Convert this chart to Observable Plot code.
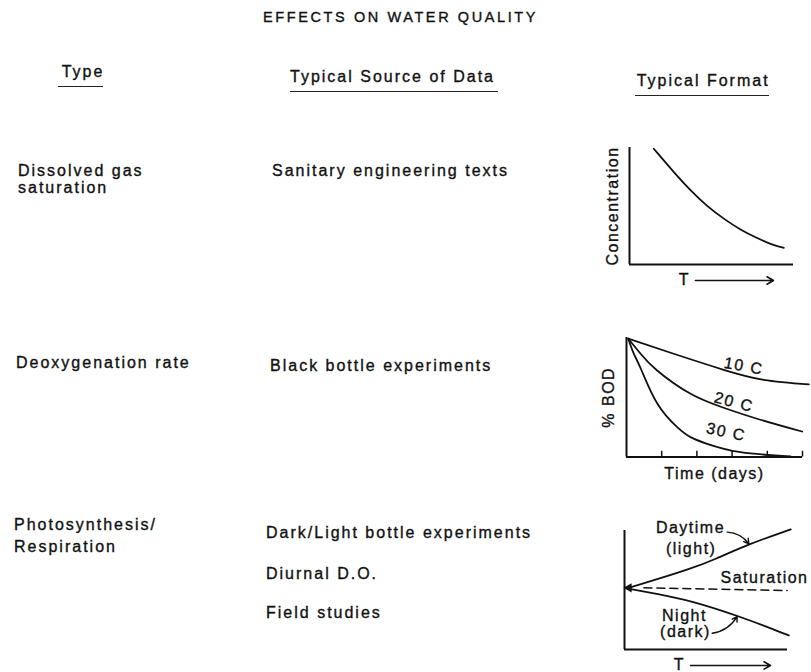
<!DOCTYPE html>
<html><head><meta charset="utf-8">
<script src="https://cdn.jsdelivr.net/npm/d3@7"></script>
<script src="https://cdn.jsdelivr.net/npm/@observablehq/plot@0.6"></script>
<style>
html,body{margin:0;padding:0;background:#fff;}
#page{position:relative;width:811px;height:672px;overflow:hidden;font-family:"Liberation Sans",Arial,Helvetica,sans-serif;color:#111;}
.t{position:absolute;font-size:16px;line-height:16px;letter-spacing:2px;white-space:nowrap;-webkit-text-stroke:0.35px #111;}
.title{font-size:14.5px;line-height:14.5px;letter-spacing:2.6px;}
.ul{position:absolute;height:0;border-top:1.6px solid #222;}
.chart{position:absolute;}
</style></head><body><div id="page"></div>
<script>
// ---------- DATA ----------
const title = "EFFECTS ON WATER QUALITY";
const headers = ["Type", "Typical Source of Data", "Typical Format"];
const types = [["Dissolved gas", "saturation"], ["Deoxygenation rate"], ["Photosynthesis/", "Respiration"]];
const sources = [["Sanitary engineering texts"], ["Black bottle experiments"], ["Dark/Light bottle experiments", "Diurnal D.O.", "Field studies"]];

// Chart 1: dissolved gas saturation concentration vs T
const concLabel = "Concentration";
const concT = [1.48, 2.70, 3.72, 4.74, 5.75, 6.77, 7.79, 8.80, 9.41];
const concC = [9.89, 7.89, 6.32, 4.96, 3.90, 2.96, 2.25, 1.62, 1.42];

// Chart 2: % BOD vs time (days)
const bodLabel = "% BOD";
const timeLabel = "Time (days)";
const dayTicks = [1, 2, 3, 4, 5];
const temps = ["10 C", "20 C", "30 C"];
const days10 = [0.05, 1.34, 2.76, 3.9, 5.18];
const bod10  = [99, 86.4, 73.0, 64.6, 60.7];
const days20 = [0.05, 0.4, 0.87, 1.82, 2.76, 3.71, 4.99];
const bod20  = [99, 86.4, 72.4, 52.9, 41.2, 32.0, 21.3];
const days30 = [0.05, 0.2, 0.42, 0.87, 1.44, 1.82, 2.29, 3.24, 4.66];
const bod30  = [99, 87, 73, 45, 25, 16.6, 11, 4, 0.5];
const tempLabelDay = [3.33, 3.05, 2.83];
const tempLabelBod = [76, 45.9, 20.8];
const tempLabelAngle = [10, 15, 12];

// Chart 3: photosynthesis / respiration
const dayX = [0.27, 2.0, 4.05, 5.6, 7.6, 10.2];
const dayY = [5.18, 5.9, 6.78, 7.6, 8.85, 10.1];
const nightX = [0.27, 2.0, 4.05, 7.12, 10.08];
const nightY = [5.1, 4.68, 4.12, 2.77, 1.18];
const satX = [1.19, 9.98];
const satY = [5.18, 4.96];
const photoLabels = ["Daytime", "(light)", "Saturation", "Night", "(dark)"];
const photoLabelX = [4.05, 4.09, 8.59, 3.68, 3.74];
const photoLabelY = [10.2, 8.46, 6.02, 2.86, 1.46];
const tLabel = "T";

// ---------- LAYOUT ----------
const ink = "#111";
const page = document.getElementById("page");
function addText(txt, left, top, cls) {
  const d = document.createElement("div");
  d.className = "t" + (cls ? " " + cls : "");
  d.textContent = txt;
  d.style.left = left + "px";
  d.style.top = top + "px";
  page.appendChild(d);
}
function addRule(x1, x2, y) {
  const d = document.createElement("div");
  d.className = "ul";
  d.style.left = x1 + "px";
  d.style.width = (x2 - x1) + "px";
  d.style.top = (y - 0.8) + "px";
  page.appendChild(d);
}
addText(title, 263, 9.5, "title");
const headerLayout = [[61.7, 63.8, 57.7, 103, 86.7], [290, 69.2, 290, 498, 91.7], [636.7, 72.5, 635, 769, 95.3]];
headers.forEach((h, i) => {
  const [l, t, u1, u2, uy] = headerLayout[i];
  addText(h, l, t);
  addRule(u1, u2, uy);
});
const typeLayout = [[18, [163.3, 180]], [16, [355]], [14, [517, 538.5]]];
types.forEach((lines, i) => lines.forEach((s, j) => addText(s, typeLayout[i][0], typeLayout[i][1][j])));
const sourceLayout = [[272, [162.5]], [270, [358]], [266, [525, 565.5, 604.5]]];
sources.forEach((lines, i) => lines.forEach((s, j) => addText(s, sourceLayout[i][0], sourceLayout[i][1][j])));

const font = {fontFamily: '"Liberation Sans",Arial,Helvetica,sans-serif', fontSize: "16px", letterSpacing: "1.5px", color: ink, background: "transparent", overflow: "visible"};
const txt = {fill: ink, stroke: ink, strokeWidth: 0.35, paintOrder: "fill"};
function place(svg, left, top) {
  svg.classList.add("chart");
  svg.style.left = left + "px";
  svg.style.top = top + "px";
  page.appendChild(svg);
}

// ---------- CHART 1 ----------
const conc = concT.map((t, i) => ({t, c: concC[i]}));
const c1 = Plot.plot({
  width: 221, height: 160, marginLeft: 39, marginRight: 18, marginTop: 17, marginBottom: 26,
  x: {domain: [0, 10], axis: null}, y: {domain: [0, 10], axis: null},
  style: font,
  marks: [
    Plot.ruleX([0], {stroke: ink, strokeWidth: 2}),
    Plot.ruleY([0], {stroke: ink, strokeWidth: 2}),
    Plot.line(conc, {x: "t", y: "c", curve: "basis", stroke: ink, strokeWidth: 1.8}),
    Plot.text([concLabel], {frameAnchor: "left", textAnchor: "middle", lineAnchor: "middle", rotate: -90, dx: -17, ...txt}),
    Plot.text([tLabel], {x: 3.35, y: -1.28, ...txt}),
    Plot.arrow([0], {x1: 4.02, x2: 8.78, y1: -1.37, y2: -1.37, stroke: ink, strokeWidth: 1.6, headLength: 7, inset: 0})
  ]
});
place(c1, 590, 130);

// ---------- CHART 2 ----------
const bodSeries = [[days10, bod10], [days20, bod20], [days30, bod30]];
const bod = bodSeries.flatMap(([ds, bs], k) => ds.map((d, i) => ({temp: temps[k], day: d, bod: bs[i]})));
const bodLabels = temps.map((t, k) => ({t, day: tempLabelDay[k], bod: tempLabelBod[k], r: tempLabelAngle[k]}));
const c2 = Plot.plot({
  width: 221, height: 170, marginLeft: 36, marginRight: 9, marginTop: 17, marginBottom: 33.5,
  x: {domain: [0, 5], axis: null}, y: {domain: [0, 100], axis: null},
  style: font,
  marks: [
    Plot.ruleX([0], {stroke: ink, strokeWidth: 2}),
    Plot.ruleY([0], {stroke: ink, strokeWidth: 2}),
    Plot.ruleX(dayTicks, {y1: 0, y2: 4.8, stroke: ink, strokeWidth: 1.5}),
    Plot.line(bod, {x: "day", y: "bod", z: "temp", curve: "natural", stroke: ink, strokeWidth: 1.8}),
    Plot.text(bodLabels, {x: "day", y: "bod", text: "t", rotate: "r", ...txt, style: {letterSpacing: "0.5px"}}),
    Plot.text([bodLabel], {frameAnchor: "left", textAnchor: "middle", lineAnchor: "middle", rotate: -90, dx: -18, ...txt}),
    Plot.text([timeLabel], {frameAnchor: "bottom", textAnchor: "middle", lineAnchor: "middle", dy: 17, ...txt})
  ]
});
place(c2, 590, 320);

// ---------- CHART 3 ----------
const dayLine = dayX.map((x, i) => ({x, y: dayY[i]}));
const nightLine = nightX.map((x, i) => ({x, y: nightY[i]}));
const satLine = satX.map((x, i) => ({x, y: satY[i]}));
const pLabels = photoLabels.map((t, i) => ({t, x: photoLabelX[i], y: photoLabelY[i]}));
const c3 = Plot.plot({
  width: 221, height: 162, marginLeft: 34, marginRight: 24, marginTop: 20, marginBottom: 23,
  x: {domain: [0, 10], axis: null}, y: {domain: [0, 10], axis: null},
  style: font,
  marks: [
    Plot.ruleX([0], {stroke: ink, strokeWidth: 2}),
    Plot.ruleY([0], {stroke: ink, strokeWidth: 2}),
    Plot.line(dayLine, {x: "x", y: "y", curve: "basis", stroke: ink, strokeWidth: 1.8}),
    Plot.line(nightLine, {x: "x", y: "y", curve: "basis", stroke: ink, strokeWidth: 1.8}),
    Plot.line(satLine, {x: "x", y: "y", stroke: ink, strokeWidth: 1.5, strokeDasharray: "8,5"}),
    Plot.dot([dayLine[0]], {x: "x", y: "y", symbol: "triangle", rotate: -90, r: 3.5, fill: ink, stroke: "none"}),
    Plot.text(pLabels, {x: "x", y: "y", text: "t", ...txt}),
    Plot.arrow([0], {x1: 6.3, y1: 9.86, x2: 7.63, y2: 8.88, bend: 25, stroke: ink, strokeWidth: 1.4, headLength: 6, inset: 0}),
    Plot.arrow([0], {x1: 5.38, y1: 1.37, x2: 6.91, y2: 2.77, bend: -25, stroke: ink, strokeWidth: 1.4, headLength: 6, inset: 0}),
    Plot.text([tLabel], {x: 3.37, y: -1.26, ...txt}),
    Plot.arrow([0], {x1: 4.05, x2: 8.96, y1: -1.34, y2: -1.34, stroke: ink, strokeWidth: 1.6, headLength: 7, inset: 0})
  ]
});
place(c3, 590, 510);
</script></body></html>
